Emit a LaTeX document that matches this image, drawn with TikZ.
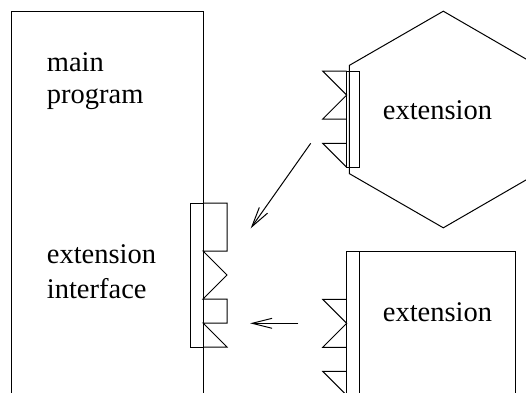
\documentclass[tikz,border=0pt]{standalone}
\usepackage{fontspec}
\setmainfont{Liberation Serif}
\newfontfamily\tnrfont{Liberation Serif}
\usetikzlibrary{arrows.meta}
\begin{document}
\begin{tikzpicture}[x=1pt,y=-1pt,
  line/.style={draw=black, line width=1pt, line join=miter},
  lbl/.style={anchor=base west, inner sep=0pt, font=\tnrfont\fontsize{28.5}{31}\selectfont},
  flow/.style={draw=black, line width=1pt, -{Straight Barb[length=20pt,width=10pt]}}]
\useasboundingbox (0,0) rectangle (526,392);
\clip (0,0) rectangle (526,392);
% main program box
\draw[line] (11,400) -- (11,11) -- (203,11) -- (203,400);
% extension interface (socket)
\draw[line] (190.7,203) rectangle (203,347);
\draw[line] (203,203) -- (227,203) -- (227,251) -- (203,251) -- (227,275) -- (203,299)
  -- (227,299) -- (227,323) -- (203,323) -- (227,347) -- (203,347);
% hexagonal extension
\draw[line] (443.3,11.2) -- (537,65.4) -- (537,173.6) -- (443.3,227.8) -- (349.3,173.6) -- (349.3,65.4) -- cycle;
\draw[line] (346.7,71) rectangle (359.3,167.3);
\draw[line] (346.7,71) -- (322.7,71) -- (346.7,95) -- (322.7,119) -- (346.7,119);
\draw[line] (346.7,143.3) -- (322.7,143.3) -- (346.7,167.3);
% rectangular extension
\draw[line] (346.7,400) -- (346.7,251.7) -- (515,251.7) -- (515,400);
\draw[line] (359,251.7) -- (359,400);
\draw[line] (346.7,299.3) -- (322.7,299.3) -- (346.7,323.3) -- (322.7,347.3) -- (346.7,347.3);
\draw[line] (346.7,371.3) -- (322.7,371.3) -- (346.7,395.3);
% labels
\node[lbl] (mainA) at (46.7,71.7) {main};
\node[lbl] (mainB) at (46.7,103.3) {program};
\node[lbl] (ifA) at (46.7,263.3) {extension};
\node[lbl] (ifB) at (46.7,298.3) {interface};
\node[lbl] (ext1) at (382.7,119) {extension};
\node[lbl] (ext2) at (382.7,321.7) {extension};
% arrows
\coordinate (a1s) at (310.7,143.3);
\coordinate (a1e) at (250.7,228.3);
\coordinate (a2s) at (298.3,323.3);
\coordinate (a2e) at (250,323.3);
\draw[flow] (a1s) -- (a1e);
\draw[flow] (a2s) -- (a2e);
\end{tikzpicture}
\end{document}
